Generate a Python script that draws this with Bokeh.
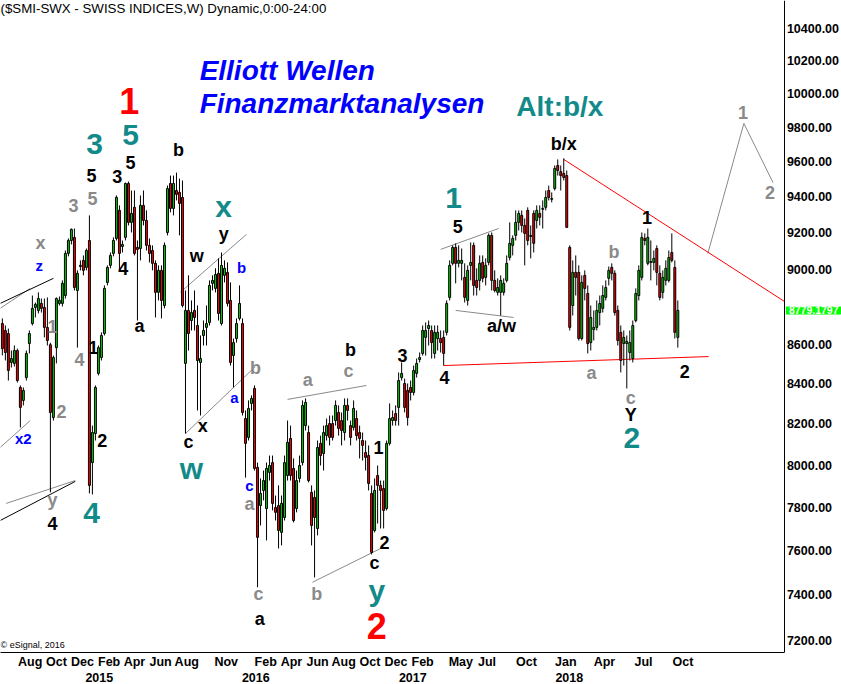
import pandas as pd
from bokeh.plotting import figure
from bokeh.models import (ColumnDataSource, Range1d, FixedTicker, PrintfTickFormatter,
                          DatetimeAxis, DatetimeTickFormatter, Label, LogAxis)
from bokeh.core.properties import value
from bokeh.embed import file_html
from bokeh.resources import INLINE

FONT = "Liberation Sans"

# ---------------- data: weekly SMI candles ----------------
first_week = "2014-06-23"

open_ = [
    8710, 8674, 8658, 8509, 8504, 8570, 8382, 8317, 8432, 8606,
    8710, 8795, 8779, 8816, 8795, 8690, 8600, 8232, 8585, 8816,
    8816, 8858, 9085, 9156, 9173, 8885, 9014, 9047, 9009, 9156,
    8012, 8153, 8453, 8534, 8658, 8928, 9020, 9085, 9167, 9323,
    9123, 9173, 9475, 9256, 9340, 9118, 9112, 9351, 9267, 9129,
    9101, 9031, 8875, 8993, 8805, 9200, 9475, 9334, 9435, 9424,
    9396, 8504, 8779, 8726, 8779, 8700, 8509, 8648, 8690, 8716,
    8923, 8896, 8977, 8710, 8966, 8982, 8832, 8544, 8632, 8737,
    8710, 8227, 8134, 8302, 8377, 7989, 7808, 7879, 7794, 7965,
    8012, 7799, 7808, 7683, 7752, 7950, 8129, 7984, 7794, 7936,
    8012, 8192, 8158, 7870, 7846, 7701, 8105, 8056, 8143, 8202,
    8202, 8217, 8257, 8217, 8158, 8292, 8192, 8183, 8227, 8158,
    8119, 8061, 8046, 7865, 7692, 7950, 7903, 7888, 7794, 8105,
    8217, 8252, 8282, 8432, 8402, 8367, 8382, 8357, 8453, 8524,
    8555, 8638, 8684, 8674, 8555, 8632, 8632, 8638, 8664, 8848,
    9031, 9118, 9031, 9031, 8955, 8832, 9020, 9129, 8939, 8939,
    9036, 8955, 9036, 9184, 8939, 8875, 8875, 8875, 8939, 9063,
    9129, 9184, 9256, 9295, 9239, 9323, 9178, 9306, 9267, 9306,
    9329, 9340, 9435, 9385, 9446, 9578, 9543, 9532, 9520, 9118,
    8805, 8982, 8982, 8632, 8966, 8869, 8611, 8679, 8690, 8768,
    8790, 8848, 8950, 9009, 8977, 8779, 8664, 8606, 8606, 8560,
    8529, 8726, 8858, 8955, 9167, 9031, 9036, 9036, 9112, 8977,
    8875, 8939, 8939, 9090, 9009, 8638,
]
high = [
    8737, 8700, 8684, 8570, 8596, 8580, 8392, 8382, 8570, 8674,
    8858, 8821, 8875, 8842, 8842, 8848, 8610, 8544, 8848, 8853,
    8939, 9101, 9167, 9222, 9222, 8993, 9047, 9074, 9112, 9295,
    8192, 8392, 8596, 8664, 8912, 9020, 9090, 9173, 9407, 9351,
    9156, 9480, 9486, 9435, 9435, 9156, 9407, 9435, 9323, 9167,
    9129, 9047, 9020, 9020, 9145, 9463, 9520, 9520, 9537, 9503,
    9492, 8885, 8966, 8832, 8885, 8805, 8648, 8726, 8805, 8939,
    8966, 9004, 9058, 9090, 9047, 9036, 8928, 8632, 8737, 8912,
    8737, 8267, 8317, 8342, 8392, 8012, 7936, 7974, 8012, 8046,
    8046, 7855, 7903, 7855, 8046, 8217, 8192, 8032, 7974, 8046,
    8317, 8327, 8192, 7903, 7879, 8119, 8143, 8192, 8227, 8242,
    8242, 8317, 8292, 8257, 8327, 8327, 8217, 8317, 8267, 8192,
    8158, 8119, 8095, 7903, 7936, 7998, 7926, 7926, 8119, 8302,
    8267, 8292, 8458, 8509, 8427, 8402, 8417, 8493, 8529, 8560,
    8700, 8716, 8726, 8700, 8700, 8700, 8674, 8674, 8832, 9047,
    9129, 9140, 9129, 9112, 9031, 9020, 9145, 9145, 9004, 9074,
    9074, 9058, 9195, 9200, 8993, 8950, 8966, 8950, 9074, 9256,
    9184, 9323, 9323, 9323, 9278, 9340, 9239, 9323, 9351, 9351,
    9379, 9435, 9463, 9424, 9578, 9613, 9578, 9619, 9549, 9129,
    9047, 9074, 9020, 8966, 8993, 8912, 8805, 8779, 8832, 8858,
    8912, 8939, 9014, 9031, 8993, 8805, 8700, 8674, 8648, 8674,
    8726, 8896, 9020, 9200, 9195, 9222, 9156, 9101, 9129, 9020,
    8993, 9047, 9101, 9195, 9047, 8832,
]
low = [
    8545, 8519, 8417, 8483, 8488, 8407, 8183, 8292, 8417, 8555,
    8700, 8742, 8763, 8768, 8638, 8596, 7870, 8217, 8504, 8805,
    8800, 8842, 9069, 9134, 8885, 8585, 8993, 8966, 8993, 7865,
    7860, 8119, 8443, 8519, 8648, 8912, 9004, 9069, 9156, 8993,
    9090, 9156, 9239, 9200, 9074, 8726, 9047, 9239, 9101, 9036,
    8993, 8742, 8832, 8737, 8790, 9184, 9312, 9295, 9379, 9184,
    8795, 8153, 8570, 8674, 8674, 8267, 8242, 8596, 8596, 8700,
    8885, 8875, 8726, 8700, 8928, 8800, 8493, 8382, 8611, 8726,
    8242, 7940, 8119, 8267, 7974, 7434, 7715, 7832, 7646, 7926,
    7785, 7738, 7609, 7623, 7738, 7926, 7926, 7729, 7776, 7917,
    7998, 8168, 7917, 7623, 7478, 7669, 7998, 7974, 8119, 8095,
    8119, 8192, 8143, 8095, 8119, 8217, 8095, 8168, 8119, 8032,
    8022, 7974, 7879, 7582, 7683, 7724, 7701, 7701, 7785, 8095,
    8192, 8192, 8192, 8417, 8257, 8192, 8317, 8342, 8432, 8509,
    8544, 8544, 8596, 8529, 8529, 8570, 8560, 8493, 8648, 8832,
    9020, 8923, 9009, 8939, 8821, 8805, 8939, 8858, 8858, 8885,
    8928, 8912, 9020, 8885, 8875, 8858, 8752, 8858, 8928, 9047,
    9074, 9156, 9211, 9200, 9020, 9129, 9058, 9090, 9222, 9239,
    9222, 9323, 9379, 9368, 9435, 9520, 9435, 9492, 9228, 8674,
    8752, 8858, 8622, 8622, 8832, 8555, 8570, 8622, 8674, 8700,
    8768, 8832, 8912, 8939, 8752, 8596, 8458, 8493, 8377, 8519,
    8509, 8716, 8832, 8939, 9129, 9020, 8939, 8993, 8912, 8832,
    8842, 8912, 8928, 9036, 8632, 8585,
]
close_ = [
    8580, 8560, 8468, 8529, 8570, 8417, 8282, 8367, 8555, 8658,
    8790, 8811, 8842, 8790, 8690, 8622, 8257, 8534, 8842, 8832,
    8923, 9085, 9156, 9217, 8901, 8977, 9020, 8993, 9101, 7903,
    8158, 8382, 8585, 8648, 8896, 9009, 9074, 9156, 9396, 9085,
    9134, 9475, 9256, 9306, 9085, 9107, 9351, 9267, 9129, 9085,
    9031, 8875, 8993, 8832, 9129, 9446, 9334, 9475, 9413, 9362,
    8805, 8779, 8658, 8768, 8742, 8519, 8529, 8674, 8710, 8912,
    8939, 8971, 8763, 9020, 9004, 8816, 8509, 8611, 8710, 8816,
    8257, 8105, 8277, 8327, 7984, 7660, 7865, 7926, 7984, 7998,
    7818, 7776, 7692, 7818, 8012, 8110, 7950, 7738, 7926, 7998,
    8292, 8307, 7926, 7715, 7752, 8085, 8046, 8158, 8192, 8134,
    8134, 8292, 8178, 8168, 8292, 8267, 8134, 8277, 8143, 8129,
    8095, 8037, 7912, 7591, 7879, 7903, 7879, 7785, 8105, 8227,
    8232, 8217, 8417, 8453, 8282, 8232, 8357, 8468, 8504, 8534,
    8674, 8674, 8700, 8611, 8664, 8664, 8611, 8555, 8816, 9020,
    9118, 9031, 9047, 9047, 8848, 8993, 9036, 8912, 8901, 9031,
    8950, 9020, 9184, 8939, 8885, 8901, 8939, 8923, 9031, 9140,
    9167, 9256, 9306, 9239, 9195, 9156, 9184, 9140, 9323, 9284,
    9334, 9396, 9396, 9390, 9561, 9549, 9520, 9509, 9228, 8690,
    8982, 8955, 8632, 8928, 8896, 8606, 8742, 8690, 8779, 8816,
    8858, 8901, 8993, 8977, 8768, 8622, 8519, 8638, 8617, 8611,
    8700, 8869, 8993, 9173, 9156, 9173, 9041, 9058, 8982, 8848,
    8955, 9004, 9063, 9047, 8664, 8779.18,
]
last_price = 8779.1797

# axis ticks (8800 is covered by the last-price box in the original)
price_ticks = [7200, 7400, 7600, 7800, 8000, 8200, 8400, 8600, 9000,
               9200, 9400, 9600, 9800, 10000, 10200, 10400]
month_ticks = ["2014-08-01", "2014-10-01", "2014-12-01", "2015-02-01", "2015-04-01",
               "2015-06-01", "2015-08-01", "2015-11-01", "2016-02-01", "2016-04-01",
               "2016-06-01", "2016-08-01", "2016-10-01", "2016-12-01", "2017-02-01",
               "2017-05-01", "2017-07-01", "2017-10-01", "2018-01-01", "2018-04-01",
               "2018-07-01", "2018-10-01"]
year_ticks = ["2015-01-01", "2016-01-01", "2017-01-01", "2018-01-01"]

# wave labels: (text, date, price)
teal_labels = [("3", "2015-01-24", 9700), ("5", "2015-04-18", 9755), ("x", "2015-11-21", 9345),
               ("w", "2015-09-07", 7984), ("4", "2015-01-17", 7771), ("y", "2016-11-12", 7420),
               ("1", "2017-05-10", 9390), ("2", "2018-06-30", 8129)]
alt_label = ("Alt:b/x", "2018-01-13", 9921)
red_labels = [("1", "2015-04-15", 9958), ("2", "2016-11-12", 7264)]
black_labels = [("5", "2015-01-17", 9520), ("3", "2015-03-18", 9515), ("5", "2015-04-18", 9595),
                ("b", "2015-08-08", 9665), ("4", "2015-04-01", 9004), ("a", "2015-05-09", 8695),
                ("1", "2015-01-21", 8585), ("2", "2015-02-11", 8119), ("4", "2014-10-18", 7724),
                ("w", "2015-09-19", 9069), ("y", "2015-11-21", 9189), ("c", "2015-08-31", 8114),
                ("x", "2015-10-03", 8192), ("a", "2016-02-13", 7295), ("b", "2016-09-12", 8575),
                ("3", "2017-01-11", 8544), ("4", "2017-04-19", 8432), ("1", "2016-11-16", 8085),
                ("2", "2016-11-30", 7637), ("c", "2016-11-07", 7542), ("5", "2017-05-20", 9233),
                ("a/w", "2017-08-30", 8695), ("b/x", "2018-01-22", 9705), ("1", "2018-08-04", 9284),
                ("Y", "2018-06-27", 8242), ("2", "2018-10-31", 8463)]
gray_labels = [("5", "2015-01-19", 9390), ("3", "2014-12-06", 9351), ("x", "2014-09-20", 9140),
               ("1", "2014-10-18", 8695), ("4", "2014-12-20", 8524), ("2", "2014-11-08", 8262),
               ("y", "2014-10-18", 7836), ("b", "2016-02-03", 8483), ("a", "2016-01-20", 7813),
               ("c", "2016-02-10", 7402), ("b", "2016-06-25", 7402), ("a", "2016-06-04", 8422),
               ("c", "2016-09-07", 8463), ("b", "2018-05-19", 9090), ("a", "2018-03-28", 8453),
               ("c", "2018-06-27", 8327), ("1", "2019-03-16", 9886), ("2", "2019-05-18", 9424)]
blue_labels = [("z", "2014-09-17", 9020), ("x2", "2014-08-11", 8129), ("b", "2016-01-02", 9009),
               ("a", "2015-12-16", 8332), ("c", "2016-01-20", 7903)]

# trend / channel lines: list of (dates, prices)
red_lines = [(["2018-01-22", "2019-06-21"], [9613, 8826]),
             (["2017-04-17", "2018-12-26"], [8493, 8539])]
gray_lines = [(["2018-12-24", "2019-03-18", "2019-05-25"], [9085, 9823, 9480]),
              (["2016-04-18", "2016-10-19"], [8322, 8392]),
              (["2017-04-10", "2017-08-23"], [9107, 9222]),
              (["2017-05-15", "2017-09-27"], [8779, 8742]),
              (["2015-08-12", "2016-01-13"], [8875, 9189]),
              (["2015-08-24", "2016-02-03"], [8153, 8488]),
              (["2016-06-15", "2016-11-21"], [7456, 7609]),
              (["2014-06-18", "2014-08-27"], [8790, 8896]),
              (["2014-06-18", "2014-08-27"], [8085, 8217]),
              (["2014-07-02", "2014-12-10"], [7818, 7926])]
black_lines = [(["2014-06-18", "2014-10-20"], [8816, 8950]),
               (["2014-06-18", "2014-12-10"], [7738, 7922])]

# visible window: price axis sits at the last date, the frame runs on under the price labels
x_start, x_axis_pos, x_end = "2014-06-18 16:00", "2019-06-21 16:00", "2019-10-31 16:00"
y_start, y_end = 7148, 10576

# ---------------- styling constants ----------------
TEAL = "#138a8a"
GRAY = "#8a8a8a"
BLUE = "#0000ff"
RED = "#ff0000"
UP = "#00d000"
DOWN = "#ff0000"
DAY_MS = 86400000
MONTH_LABEL_SHIFT = 26 * DAY_MS
YEAR_LABEL_SHIFT = 34 * DAY_MS


def ms(d):
    return pd.Timestamp(d).value / 1e6


weeks = pd.date_range(first_week, periods=len(close_), freq="7D")
up = [c >= o for o, c in zip(open_, close_)]
src = ColumnDataSource(dict(
    x=weeks, high=high, low=low,
    top=[max(o, c) for o, c in zip(open_, close_)],
    bottom=[min(o, c) for o, c in zip(open_, close_)],
    color=[UP if u else DOWN for u in up],
))

p = figure(width=841, height=684, x_axis_type="datetime", y_axis_type="log",
           y_axis_location=None,
           x_range=Range1d(ms(x_start), ms(x_end)), y_range=Range1d(y_start, y_end),
           output_backend="svg", toolbar_location=None,
           min_border_left=0, min_border_top=0, min_border_right=0, min_border_bottom=32)
p.outline_line_color = None
p.grid.visible = False
p.background_fill_color = "white"
p.border_fill_color = "white"


def style_axis(ax, standoff, size="12.5px"):
    ax.major_tick_line_color = None
    ax.minor_tick_line_color = None
    ax.major_tick_out = 0
    ax.major_tick_in = 0
    ax.minor_tick_out = 0
    ax.minor_tick_in = 0
    ax.major_label_standoff = standoff
    ax.major_label_text_font = FONT
    ax.major_label_text_font_style = "bold"
    ax.major_label_text_font_size = size
    ax.major_label_text_color = "black"


# price axis (log), fixed at the right end of the data area
ya = LogAxis(fixed_location=ms(x_axis_pos), ticker=FixedTicker(ticks=price_ticks, minor_ticks=[]),
             formatter=PrintfTickFormatter(format="%.2f"), axis_line_color="black")
style_axis(ya, 2)
p.add_layout(ya, "right")

# x axis (months)
fmt_m = DatetimeTickFormatter(microseconds="%b", milliseconds="%b", seconds="%b", minsec="%b",
                              minutes="%b", hourmin="%b", hours="%b", days="%b", months="%b",
                              years="%b")
xa = p.xaxis[0]
xa.ticker = FixedTicker(ticks=[ms(d) + MONTH_LABEL_SHIFT for d in month_ticks], minor_ticks=[])
xa.formatter = fmt_m
xa.axis_line_color = "black"
xa.bounds = (ms(x_start), ms(x_axis_pos))
style_axis(xa, 2)

fmt_y = DatetimeTickFormatter(microseconds="%Y", milliseconds="%Y", seconds="%Y", minsec="%Y",
                              minutes="%Y", hourmin="%Y", hours="%Y", days="%Y", months="%Y",
                              years="%Y")
xa2 = DatetimeAxis(ticker=FixedTicker(ticks=[ms(d) + YEAR_LABEL_SHIFT for d in year_ticks],
                                      minor_ticks=[]),
                   formatter=fmt_y, axis_line_color=None)
style_axis(xa2, 1)
p.add_layout(xa2, "below")

# lines
for lines, col in ((gray_lines, GRAY), (red_lines, RED), (black_lines, "black")):
    p.multi_line(xs=[[ms(d) for d in ds] for ds, _ in lines], ys=[ps for _, ps in lines],
                 line_color=col, line_width=1)

# candles
p.segment(x0="x", x1="x", y0="low", y1="high", source=src, line_color="black", line_width=1)
p.vbar(x="x", width=4.5 * DAY_MS, top="top", bottom="bottom", source=src,
       fill_color="color", line_color="black", line_width=1)


def add_labels(items, color, size, style="bold"):
    s = ColumnDataSource(dict(x=[ms(d) for _, d, _ in items], y=[v for _, _, v in items],
                              t=[t for t, _, _ in items]))
    p.text(x="x", y="y", text="t", source=s, text_color=color,
           text_font=value(FONT), text_font_size=value(size), text_font_style=style,
           text_align="center", text_baseline="middle")


add_labels(teal_labels, TEAL, "30px")
add_labels([alt_label], TEAL, "28px")
add_labels(red_labels, RED, "36px")
add_labels(black_labels, "black", "18px")
add_labels(gray_labels, GRAY, "18px")
add_labels(blue_labels, BLUE, "15px")

# headline texts
head = ColumnDataSource(dict(x=[ms("2015-09-26"), ms("2015-09-26")], y=[10141, 9942],
                             t=["Elliott Wellen", "Finanzmarktanalysen"]))
p.text(x="x", y="y", text="t", source=head, text_color=BLUE, text_font=value(FONT),
       text_font_size=value("28px"), text_font_style="bold italic",
       text_align="left", text_baseline="alphabetic")

p.add_layout(Label(x=ms(x_start), y=y_end, text="($SMI-SWX - SWISS INDICES,W) Dynamic,0:00-24:00",
                   text_font=FONT, text_font_size="13.3px", text_color="black",
                   text_align="left", text_baseline="top"))
p.add_layout(Label(x=ms(x_start), y=7181, text="\u00a9 eSignal, 2016", text_font=FONT,
                   text_font_size="9px", text_color="black", text_align="left",
                   text_baseline="middle"))

price_box = dict(x=ms(x_axis_pos), y=last_price, x_offset=1, text=f"{last_price:.4f}",
                 text_font=FONT, text_font_size="10.5px", text_font_style="bold",
                 text_color="white", background_fill_color="#00ff00",
                 text_align="left", text_baseline="middle")
if "padding" in Label.properties():
    price_box["padding"] = (3, 0)
p.add_layout(Label(**price_box))

open("out.html", "w").write(file_html(p, INLINE))
